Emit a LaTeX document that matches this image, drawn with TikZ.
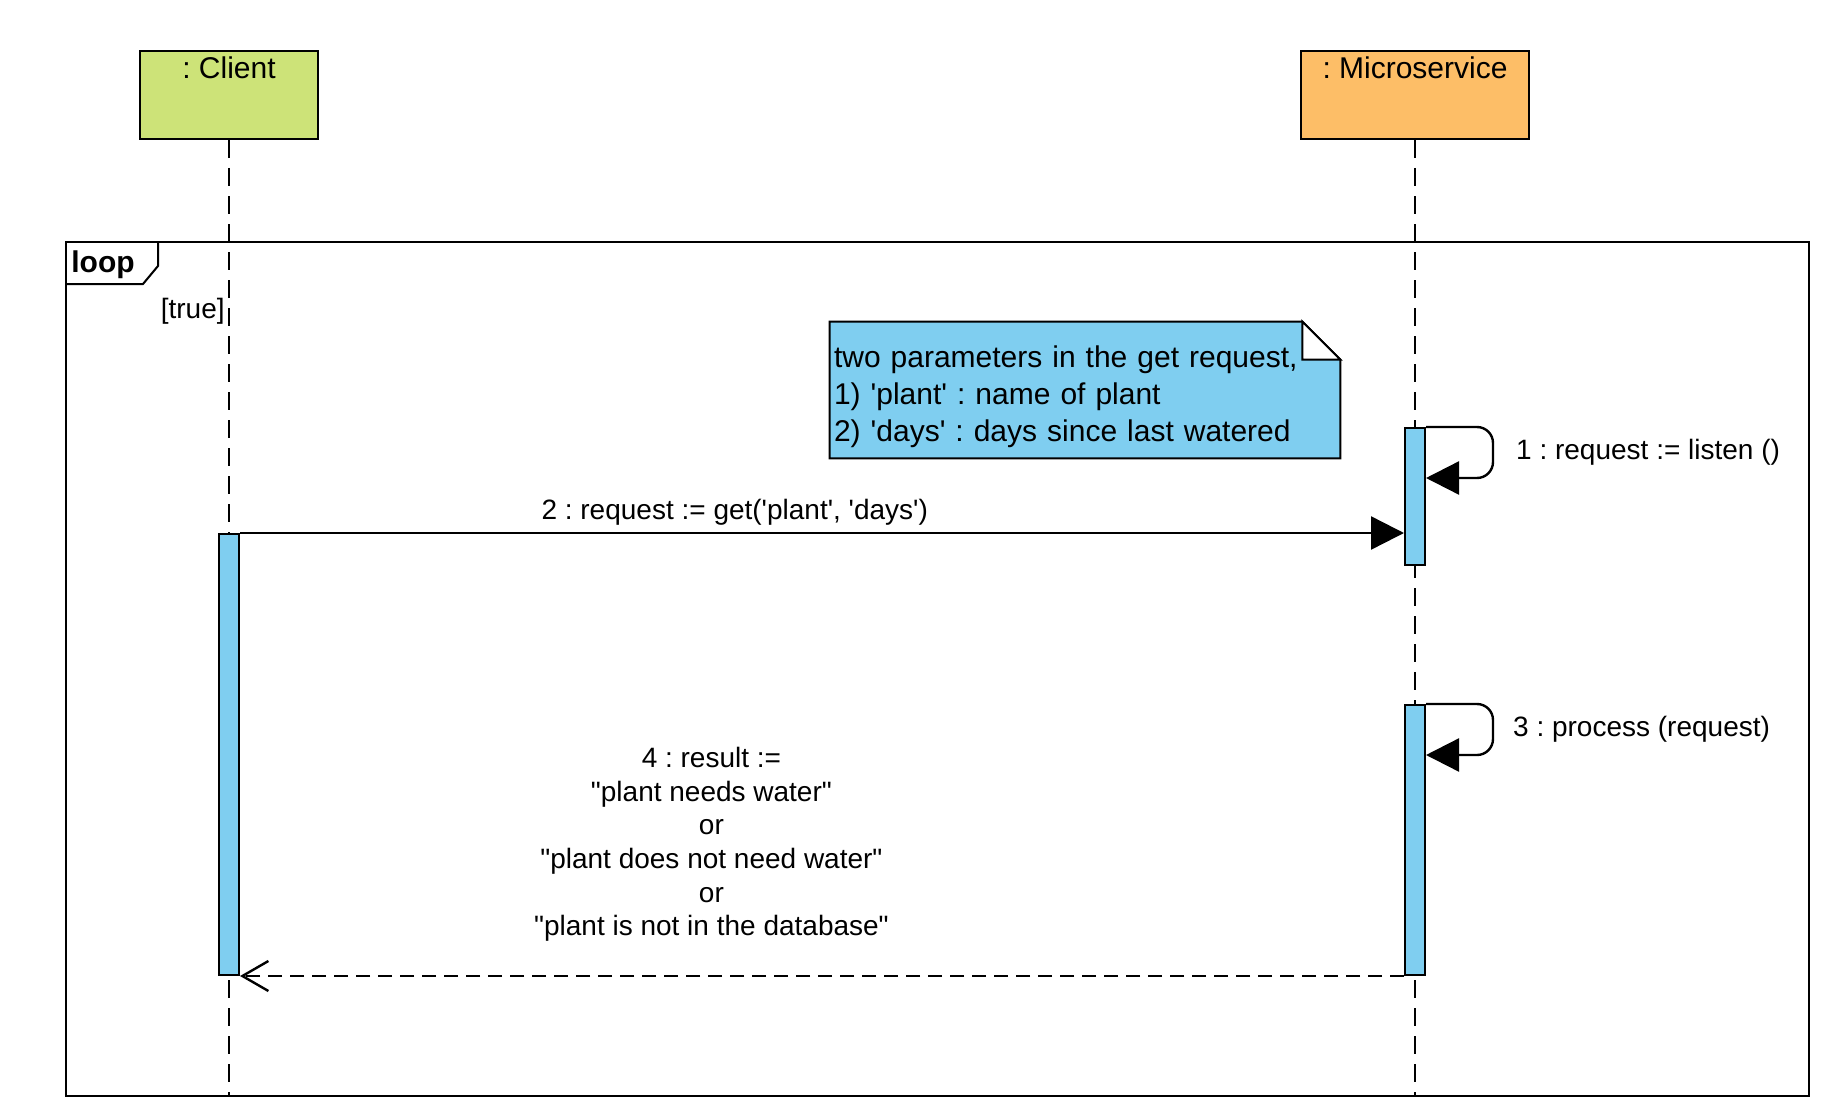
\documentclass[tikz,border=0pt]{standalone}
\usepackage{fontspec}
\setmainfont{Liberation Sans}
\usetikzlibrary{arrows.meta,backgrounds}
\definecolor{clientgreen}{RGB}{205,227,120}
\definecolor{serviceorange}{RGB}{253,190,103}
\definecolor{activeblue}{RGB}{127,206,240}
\newcommand{\q}{\textquotesingle}
\newcommand{\qq}{\textquotedbl}
\frenchspacing
\tikzset{
  actorbox/.style={draw, line width=1pt, minimum width=#1, minimum height=44pt, inner sep=0pt},
  headtext/.style={inner sep=0pt, font=\fontsize{15}{18}\selectfont},
  lifeline/.style={line width=1pt, dash pattern=on 9pt off 5pt},
  activebar/.style={draw, fill=activeblue, line width=1pt, minimum width=10pt, inner sep=0pt},
  notetext/.style={text width=251pt, align=left, inner sep=2pt, minimum height=68pt, font=\fontsize{15}{18.5}\selectfont},
  msgcall/.style={line width=1.2pt, -{Triangle[length=16.5pt,width=16.5pt]}},
  msgreply/.style={line width=1.2pt, dash pattern=on 7pt off 4pt, -{Straight Barb[length=13pt,width=15pt]}},
  msglabel/.style={inner sep=0pt, font=\fontsize{14}{16.85}\selectfont},
}
\begin{document}
\begin{tikzpicture}[x=0.5pt, y=-0.5pt]
            \useasboundingbox (0,0) rectangle (1848,1113);
            \node[actorbox=89pt, fill=clientgreen] (client) at (229,95) {};
            \node[actorbox=114pt, fill=serviceorange] (service) at (1415,95) {};
            \node[headtext] (clientname) at (229,68) {: Client};
            \node[headtext] (servicename) at (1415,68) {: Microservice};
            \draw[line width=1pt] (66,242) rectangle (1809,1096);
            \draw[line width=1pt] (66,284) -- (143,284) -- (158,266) -- (158,242);
            \node[anchor=base west, inner sep=0pt, font=\fontsize{15}{18}\selectfont\bfseries] (looptag) at (71,272) {loop};
            \node[anchor=base east, msglabel] (guard) at (225,318) {[true]};
            \coordinate (clientend) at (229,1096);
            \coordinate (serviceend) at (1415,1096);
            \draw[lifeline] (client.south) -- (clientend);
            \draw[lifeline] (service.south) -- (serviceend);
            \node[notetext] (note) at (1085,397) {two parameters in the get request,\\1) \q plant\q{} : name of plant\\2) \q days\q{} : days since last watered};
            \begin{scope}[on background layer]
                \draw[line width=1pt, fill=activeblue] ([yshift=3.5pt]note.north west) -- ([xshift=-19pt,yshift=3.5pt]note.north east) -- ([yshift=-15.5pt]note.north east) -- ([yshift=3.5pt]note.south east) -- ([yshift=3.5pt]note.south west) -- cycle;
                \draw[line width=1pt, fill=white] ([xshift=-19pt,yshift=3.5pt]note.north east) -- ([xshift=-19pt,yshift=-15.5pt]note.north east) -- ([yshift=-15.5pt]note.north east) -- cycle;
            \end{scope}
            \node[activebar, minimum height=220.5pt] (clientact) at (229,754.5) {};
            \node[activebar, minimum height=68.5pt] (serviceact1) at (1415,496.5) {};
            \node[activebar, minimum height=135pt] (serviceact2) at (1415,840) {};
            \draw[msgcall, rounded corners=8pt] (serviceact1.north east) -- ++(67,0) -- ++(0,51) node[midway, right=11pt, msglabel] (call1) {1 : request := listen ()} -- ++(-67,0);
            \draw[msgcall] (clientact.north east) -- (clientact.north east -| serviceact1.west) node[msglabel, pos=0.425, above=3pt] (call2) {2 : request := get(\q plant\q, \q days\q)};
            \draw[msgcall, rounded corners=8pt] (serviceact2.north east) -- ++(67,0) -- ++(0,51) node[midway, right=9.5pt, msglabel] (call3) {3 : process (request)} -- ++(-67,0);
            \draw[msgreply] (serviceact2.south west) -- (clientact.south east) node[msglabel, pos=0.595, above=16.5pt, align=center] (reply4) {4 : result :=\\\qq plant needs water\qq\\or\\\qq plant does not need water\qq\\or\\\qq plant is not in the database\qq};
        \end{tikzpicture}
\end{document}
